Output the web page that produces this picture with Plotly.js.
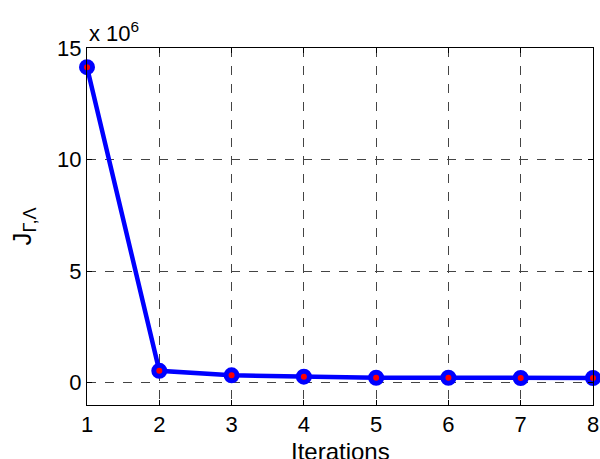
<!DOCTYPE html>
<html>
<head>
<meta charset="utf-8">
<script src="https://cdn.plot.ly/plotly-3.0.1.min.js"></script>
<style>html,body{margin:0;padding:0;background:#fff;}#chart{width:600px;height:459px;}</style>
</head>
<body>
<div id="chart"></div>
<script>
var iterations = [1, 2, 3, 4, 5, 6, 7, 8];
var costMillions = [14.14, 0.53, 0.33, 0.27, 0.22, 0.22, 0.21, 0.21];
var yTicks = [0, 5, 10, 15];
var xTicks = [1, 2, 3, 4, 5, 6, 7, 8];

var trace = {
  x: iterations,
  y: costMillions,
  type: 'scatter',
  mode: 'lines+markers',
  line: {color: '#0000ff', width: 4.5},
  marker: {symbol: 'circle', size: 11, color: '#ff0000', line: {color: '#0000ff', width: 5}},
  cliponaxis: false,
  hoverinfo: 'none'
};

var fam = 'Liberation Sans, Arial, sans-serif';
var tickFont = {family: fam, size: 22, color: '#000'};
var titleFont = {family: fam, size: 24, color: '#000'};

var layout = {
  width: 600, height: 459,
  margin: {l: 87, r: 7, t: 48, b: 54},
  paper_bgcolor: '#fff', plot_bgcolor: '#fff',
  font: tickFont,
  showlegend: false,
  xaxis: {
    range: [1, 8], tickvals: xTicks, ticktext: xTicks.map(String),
    showline: true, linecolor: '#000', linewidth: 1, mirror: 'ticks',
    ticks: 'inside', ticklen: 5, tickcolor: '#000',
    showgrid: true, gridcolor: '#444', griddash: 'dash', gridwidth: 1,
    zeroline: false, tickfont: tickFont
  },
  yaxis: {
    range: [-1, 15], tickvals: yTicks, ticktext: yTicks.map(String),
    showline: true, linecolor: '#000', linewidth: 1, mirror: 'ticks',
    ticks: 'inside', ticklen: 5, tickcolor: '#000',
    showgrid: true, gridcolor: '#444', griddash: 'dash', gridwidth: 1,
    zeroline: false, tickfont: tickFont,
    title: {text: 'J<sub>Γ,Λ</sub>', font: {family: fam, size: 26, color: '#000'}, standoff: 18}
  },
  annotations: [{
    xref: 'paper', yref: 'paper', x: 0, y: 1, xanchor: 'left', yanchor: 'bottom',
    yshift: 0, showarrow: false, text: 'x 10<sup>6</sup>', font: tickFont
  }, {
    xref: 'paper', yref: 'paper', x: 0.5, y: 0, xanchor: 'center', yanchor: 'top',
    yshift: -31, showarrow: false, text: 'Iterations', font: titleFont
  }]
};

Plotly.newPlot('chart', [trace], layout, {displayModeBar: false, staticPlot: true});
</script>
</body>
</html>
